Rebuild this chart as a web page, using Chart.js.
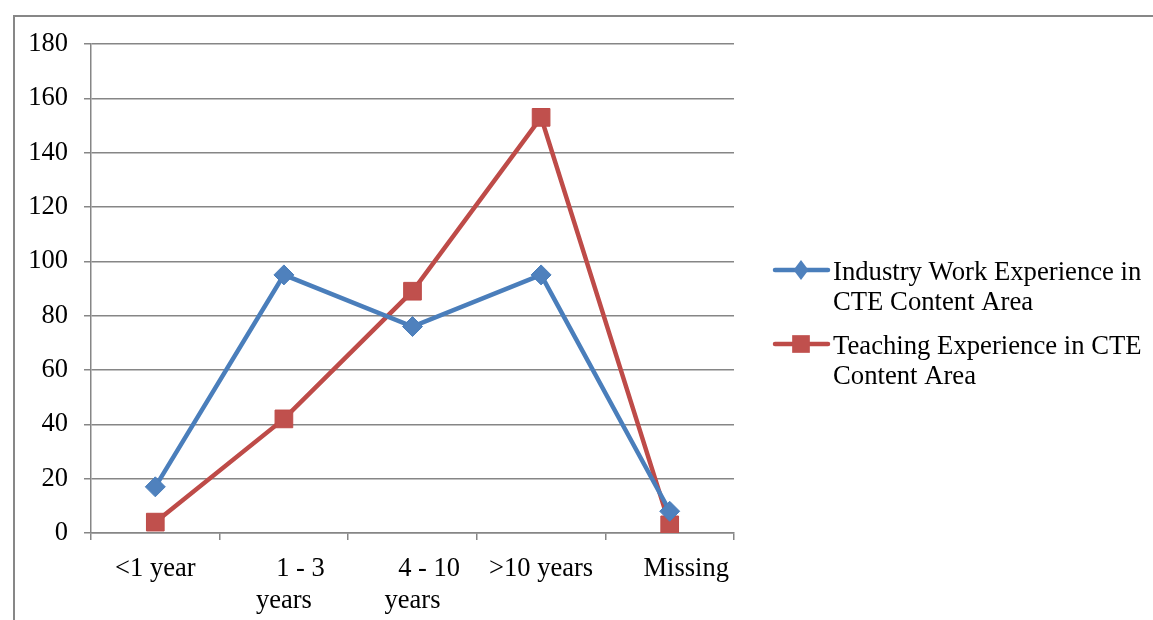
<!DOCTYPE html>
<html>
<head>
<meta charset="utf-8">
<script src="https://cdn.jsdelivr.net/npm/chart.js@4/dist/chart.umd.min.js"></script>
<style>
  html, body { margin: 0; padding: 0; background: #ffffff; }
  #wrap { width: 1153px; height: 620px; position: relative; }
  canvas { display: block; }
</style>
</head>
<body>
<div id="wrap"><canvas id="chart" width="1153" height="620"></canvas></div>
<script>
// Experience categories (x axis)
const categories = ['<1 year', ['1 - 3', 'years'], ['4 - 10', 'years'], '>10 years', 'Missing'];
// Series values
const industryWork = [17, 95, 76, 95, 8];
const teachingExp = [4, 42, 89, 153, 3];
// Series names as shown in the legend (wrapped)
const industryName = ['Industry Work Experience in', 'CTE Content Area'];
const teachingName = ['Teaching Experience in CTE', 'Content Area'];
// Value axis range
const yMin = 0, yMax = 180, yStep = 20;

const FONT = "'Liberation Serif', 'Times New Roman', serif";
const GRID = '#868686';
const indented = new Set([1, 2, 4]);

// Frame around the whole figure (open on the right and bottom edges)
const framePlugin = {
  id: 'frame',
  beforeDraw(chart) {
    const ctx = chart.ctx;
    ctx.save();
    ctx.strokeStyle = '#878787';
    ctx.lineWidth = 2;
    ctx.beginPath();
    ctx.moveTo(14, 620);
    ctx.lineTo(14, 16);
    ctx.lineTo(1153, 16);
    ctx.stroke();
    ctx.restore();
  }
};

// Legend on the right with wrapped series names
const sideLegend = {
  id: 'sideLegend',
  afterDraw(chart) {
    const ctx = chart.ctx;
    const rows = [
      { ds: chart.data.datasets[0], y: 270 },
      { ds: chart.data.datasets[1], y: 344 }
    ];
    ctx.save();
    rows.forEach(r => {
      const ds = r.ds;
      ctx.strokeStyle = ds.borderColor;
      ctx.lineWidth = 4.5;
      ctx.lineCap = 'round';
      ctx.beginPath();
      ctx.moveTo(775, r.y);
      ctx.lineTo(828, r.y);
      ctx.stroke();
      ctx.fillStyle = ds.pointBackgroundColor;
      ctx.strokeStyle = ds.pointBorderColor;
      ctx.lineWidth = 1;
      ctx.beginPath();
      if (ds.pointStyle === 'rect') {
        const s = ds.pointRadius * Math.SQRT1_2;
        ctx.rect(801 - s, r.y - s, 2 * s, 2 * s);
      } else {
        const d = ds.pointRadius;
        ctx.moveTo(801, r.y - d);
        ctx.lineTo(801 + d * 0.75, r.y);
        ctx.lineTo(801, r.y + d);
        ctx.lineTo(801 - d * 0.75, r.y);
        ctx.closePath();
      }
      ctx.fill();
      ctx.fillStyle = '#000000';
      ctx.font = '26.7px ' + FONT;
      ctx.textBaseline = 'middle';
      ctx.textAlign = 'left';
      ds.label.forEach((line, i) => ctx.fillText(line, 833, r.y + 3 + i * 30));
    });
    ctx.restore();
  }
};

new Chart(document.getElementById('chart'), {
  type: 'line',
  data: {
    labels: categories,
    datasets: [
      {
        label: industryName,
        data: industryWork,
        borderColor: '#4A7EBB',
        backgroundColor: '#4F81BD',
        pointBackgroundColor: '#4F81BD',
        pointBorderColor: '#4A7EBB',
        pointStyle: 'rectRot',
        pointRadius: 10,
        pointBorderWidth: 1,
        borderWidth: 4.5,
        tension: 0
      },
      {
        label: teachingName,
        data: teachingExp,
        borderColor: '#BE4B48',
        backgroundColor: '#C0504D',
        pointBackgroundColor: '#C0504D',
        pointBorderColor: '#BE4B48',
        pointStyle: 'rect',
        pointRadius: 12.5,
        pointBorderWidth: 1,
        borderWidth: 4.5,
        tension: 0
      }
    ]
  },
  options: {
    responsive: false,
    animation: false,
    events: [],
    layout: { padding: { left: 0, top: 44, right: 419, bottom: 0 } },
    plugins: {
      legend: { display: false },
      tooltip: { enabled: false }
    },
    scales: {
      x: {
        offset: true,
        afterFit(scale) { scale.height = 87; },
        grid: {
          offset: true,
          drawOnChartArea: false,
          drawTicks: true,
          tickLength: 7,
          color: GRID,
          lineWidth: 1.5
        },
        border: { display: true, color: GRID, width: 1.5 },
        ticks: {
          color: '#000000',
          font: { family: FONT, size: 26.5 },
          padding: 13,
          maxRotation: 0,
          autoSkip: false,
          callback(value, index) {
            const lab = categories[index];
            const pad = indented.has(index) ? '     ' : '';
            if (Array.isArray(lab)) return [pad + lab[0], ...lab.slice(1)];
            return pad + lab;
          }
        }
      },
      y: {
        min: yMin,
        max: yMax,
        afterFit(scale) { scale.width = 91; },
        grid: {
          drawOnChartArea: true,
          drawTicks: true,
          tickLength: 7,
          color: GRID,
          lineWidth: 1.5
        },
        border: { display: true, color: GRID, width: 1.5 },
        ticks: {
          stepSize: yStep,
          color: '#000000',
          font: { family: FONT, size: 26.5 },
          padding: 16
        }
      }
    }
  },
  plugins: [framePlugin, sideLegend]
});
</script>
</body>
</html>
